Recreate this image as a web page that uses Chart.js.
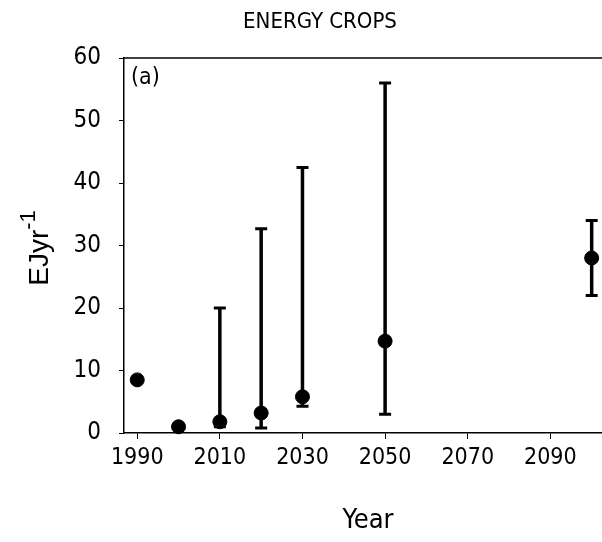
<!DOCTYPE html>
<html>
<head>
<meta charset="utf-8">
<script src="https://cdn.jsdelivr.net/npm/chart.js@4.4.1/dist/chart.umd.min.js"></script>
<style>
  html, body { margin: 0; padding: 0; background: #fff; }
  #wrap { width: 602px; height: 542px; position: relative; }
</style>
</head>
<body>
<div id="wrap"><canvas id="cropChart"></canvas></div>
<script>
// data
const years = [1990, 2000, 2010, 2020, 2030, 2050, 2100];
const values = [8.5, 1.0, 1.8, 3.2, 5.8, 14.7, 28];
const errLow = [null, null, 1.0, 0.8, 4.3, 3.0, 22];
const errHigh = [null, null, 20, 32.7, 42.5, 56, 34];
const xTicks = [1990, 2010, 2030, 2050, 2070, 2090];
const yTicks = [0, 10, 20, 30, 40, 50, 60];

const NARROW = "'Liberation Sans Narrow', 'Arial Narrow', 'DejaVu Sans Condensed', sans-serif";
const FONT = "'Liberation Sans', Arial, sans-serif";

// error bars, frame top, titles
const extras = {
  id: "extras",
  beforeDatasetsDraw(chart) {
    const { ctx, scales: { x, y } } = chart;
    ctx.save();
    ctx.strokeStyle = "#000";
    years.forEach((yr, i) => {
      if (errLow[i] == null) return;
      const px = x.getPixelForValue(yr);
      const lo = y.getPixelForValue(errLow[i]);
      const hi = y.getPixelForValue(errHigh[i]);
      ctx.lineWidth = 3.5;
      ctx.beginPath();
      ctx.moveTo(px, lo);
      ctx.lineTo(px, hi);
      ctx.stroke();
      ctx.lineWidth = 3;
      ctx.beginPath();
      ctx.moveTo(px - 6, hi); ctx.lineTo(px + 6, hi);
      ctx.moveTo(px - 6, lo); ctx.lineTo(px + 6, lo);
      ctx.stroke();
    });
    ctx.restore();
  },
  afterDraw(chart) {
    const { ctx, chartArea: a } = chart;
    ctx.save();
    ctx.strokeStyle = "#000";
    ctx.lineWidth = 1.5;
    ctx.beginPath();
    ctx.moveTo(a.left, a.top);
    ctx.lineTo(602, a.top);
    ctx.stroke();

    ctx.fillStyle = "#000";
    ctx.textAlign = "center";
    ctx.textBaseline = "middle";
    ctx.font = "22px " + NARROW;
    ctx.fillText("ENERGY CROPS", 320, 22);

    ctx.font = "27px " + NARROW;
    ctx.fillText("Year", 368, 521);

    ctx.textAlign = "left";
    ctx.font = "23px " + NARROW;
    ctx.fillText("(a)", 131, 78);

    // y title with superscript
    ctx.translate(40, 248);
    ctx.rotate(-Math.PI / 2);
    const base = "EJyr";
    const sup = "-1";
    ctx.font = "28px " + FONT;
    const w1 = ctx.measureText(base).width;
    ctx.font = "22px " + FONT;
    const w2 = ctx.measureText(sup).width;
    const start = -(w1 + w2) / 2;
    ctx.font = "28px " + FONT;
    ctx.fillText(base, start, 0);
    ctx.font = "22px " + FONT;
    ctx.fillText(sup, start + w1, -11);
    ctx.restore();
  }
};

const ctx = document.getElementById("cropChart").getContext("2d");
new Chart(ctx, {
  type: "scatter",
  data: {
    datasets: [{
      data: years.map((yr, i) => ({ x: yr, y: values[i] })),
      backgroundColor: "#000",
      borderColor: "#000",
      pointRadius: 7,
      pointHoverRadius: 7,
      clip: false
    }]
  },
  options: {
    responsive: true,
    maintainAspectRatio: false,
    animation: false,
    layout: { autoPadding: false, padding: { left: 0, right: 0, top: 58, bottom: 0 } },
    plugins: { legend: { display: false }, tooltip: { enabled: false } },
    scales: {
      x: {
        type: "linear",
        min: 1986.8,
        max: 2102.5,
        afterBuildTicks: (s) => { s.ticks = xTicks.map(v => ({ value: v })); },
        afterFit: (s) => { s.height = 109; s.paddingLeft = 0; s.paddingRight = 0; },
        grid: { display: true, drawOnChartArea: false, tickLength: 6, color: "#000", lineWidth: 1 },
        border: { display: true, color: "#000", width: 1.5 },
        ticks: { color: "#000", font: { family: NARROW, size: 23 }, padding: 5, maxRotation: 0,
                 callback: (v) => String(v) }
      },
      y: {
        min: 0,
        max: 60,
        afterBuildTicks: (s) => { s.ticks = yTicks.map(v => ({ value: v })); },
        afterFit: (s) => { s.width = 124; s.paddingTop = 0; s.paddingBottom = 0; },
        grid: { display: true, drawOnChartArea: false, tickLength: 5, color: "#000", lineWidth: 1 },
        border: { display: true, color: "#000", width: 1.5 },
        ticks: { color: "#000", font: { family: NARROW, size: 24 }, padding: 18,
                 callback: (v) => String(v) }
      }
    }
  },
  plugins: [extras]
});
</script>
</body>
</html>
